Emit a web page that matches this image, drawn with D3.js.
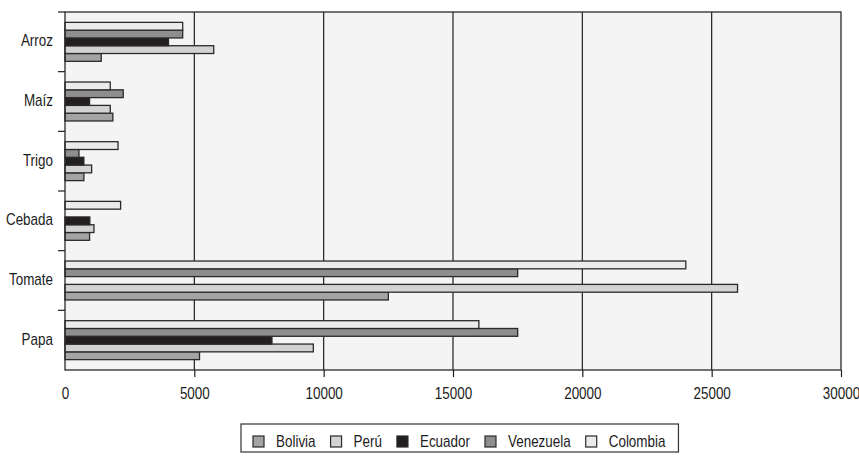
<!DOCTYPE html>
<html>
<head>
<meta charset="utf-8">
<script src="https://cdn.jsdelivr.net/npm/d3@7"></script>
<style>
  html, body { margin: 0; padding: 0; background: #ffffff; }
  svg text { font-family: "Liberation Sans", Arial, sans-serif; font-size: 16px; fill: #1c1c1c; }
</style>
</head>
<body>
<svg id="chart" width="859" height="456"></svg>
<script>
// Crops listed top to bottom as they appear on the category axis
const categories = ["Arroz", "Maíz", "Trigo", "Cebada", "Tomate", "Papa"];
const series = ["Bolivia", "Perú", "Ecuador", "Venezuela", "Colombia"];

// Values per country, in the same order as `categories`
const bolivia   = [1400, 1850,  730,  950, 12500,  5200];
const peru      = [5750, 1750, 1030, 1120, 26000,  9600];
const ecuador   = [4000,  950,  730,  960,     0,  8000];
const venezuela = [4550, 2250,  540,    0, 17500, 17500];
const colombia  = [4550, 1750, 2050, 2150, 24000, 16000];

const xTicks = [0, 5000, 10000, 15000, 20000, 25000, 30000];

const seriesValues = [bolivia, peru, ecuador, venezuela, colombia];
const seriesColors = ["#a4a4a4", "#d3d3d3", "#231f20", "#8e8e8e", "#ebebeb"];

// Condensed look: regular sans squeezed horizontally
const SQUEEZE = 0.84;

const svg = d3.select("#chart");
const plot = { left: 65, right: 841, top: 12, bottom: 370 };

const x = d3.scaleLinear().domain([0, 30000]).range([plot.left, plot.right]);
const y = d3.scaleBand().domain(categories).range([plot.top, plot.bottom]).padding(0);
// Within each category the last series sits on top
const yInner = d3.scaleBand()
  .domain(series.slice().reverse())
  .range([0, y.bandwidth()])
  .paddingInner(0)
  .paddingOuter(1.33);

// Plot background
svg.append("rect")
  .attr("x", plot.left).attr("y", plot.top)
  .attr("width", plot.right - plot.left).attr("height", plot.bottom - plot.top)
  .attr("fill", "#f4f4f4");

// Vertical gridlines
svg.append("g").selectAll("line")
  .data(xTicks.filter(d => d > 0 && d < 30000))
  .join("line")
  .attr("x1", d => x(d)).attr("x2", d => x(d))
  .attr("y1", plot.top).attr("y2", plot.bottom)
  .attr("stroke", "#1e1e1e").attr("stroke-width", 1.2);

// Bars
const rows = [];
categories.forEach((c, ci) => {
  series.forEach((s, si) => {
    rows.push({ cat: c, series: s, value: seriesValues[si][ci], color: seriesColors[si] });
  });
});

svg.append("g").selectAll("rect")
  .data(rows.filter(d => d.value > 0))
  .join("rect")
  .attr("x", x(0))
  .attr("y", d => y(d.cat) + yInner(d.series))
  .attr("width", d => x(d.value) - x(0))
  .attr("height", yInner.bandwidth())
  .attr("fill", d => d.color)
  .attr("stroke", "#2a2a2a")
  .attr("stroke-width", 1.3);

// Plot frame
svg.append("rect")
  .attr("x", plot.left).attr("y", plot.top)
  .attr("width", plot.right - plot.left).attr("height", plot.bottom - plot.top)
  .attr("fill", "none").attr("stroke", "#2a2a2a").attr("stroke-width", 1.3);

// Value axis
const xAxis = d3.axisBottom(x)
  .tickValues(xTicks)
  .tickSize(7)
  .tickSizeOuter(0)
  .tickPadding(11)
  .tickFormat(d3.format("d"));
const gx = svg.append("g")
  .attr("transform", `translate(0,${plot.bottom})`)
  .call(xAxis);
gx.select(".domain").remove();
gx.selectAll(".tick line")
  .attr("stroke", "#1e1e1e").attr("stroke-width", 1.2)
  .attr("display", d => d === 0 ? "none" : null);
gx.selectAll(".tick text")
  .attr("font-size", 16).attr("fill", "#1c1c1c")
  .attr("font-family", "Liberation Sans, Arial, sans-serif")
  .attr("transform", `scale(${SQUEEZE},1)`);

// Category axis: separator ticks between bands, labels centred in each band
svg.append("g").selectAll("line")
  .data(categories.map(c => y(c)))
  .join("line")
  .attr("x1", plot.left - 7).attr("x2", plot.left)
  .attr("y1", d => d).attr("y2", d => d)
  .attr("stroke", "#1e1e1e").attr("stroke-width", 1.2);

svg.append("g").selectAll("g")
  .data(categories)
  .join("g")
  .attr("transform", d => `translate(${plot.left - 12},${y(d) + y.bandwidth() / 2 - 1})`)
  .append("text")
  .attr("transform", `scale(${SQUEEZE},1)`)
  .attr("dy", "0.35em")
  .attr("text-anchor", "end")
  .text(d => d);

// Legend
const legend = svg.append("g");
const legendBox = legend.append("rect")
  .attr("fill", "#ffffff").attr("stroke", "#333").attr("stroke-width", 1.2);
let lx = 253;
const sw = 11, ly = 436;
series.forEach((s, i) => {
  legend.append("rect")
    .attr("x", lx).attr("y", ly)
    .attr("width", sw).attr("height", sw)
    .attr("fill", seriesColors[i]).attr("stroke", "#2a2a2a").attr("stroke-width", 1.2);
  const t = legend.append("g")
    .attr("transform", `translate(${lx + 23},${ly + sw / 2})`)
    .append("text")
    .attr("transform", `scale(${SQUEEZE},1)`)
    .attr("dy", "0.35em")
    .text(s);
  lx += 23 + t.node().getComputedTextLength() * SQUEEZE + 15;
});
legendBox
  .attr("x", 241).attr("y", 424)
  .attr("width", (lx - 15 + 13) - 241).attr("height", 28);
</script>
</body>
</html>
